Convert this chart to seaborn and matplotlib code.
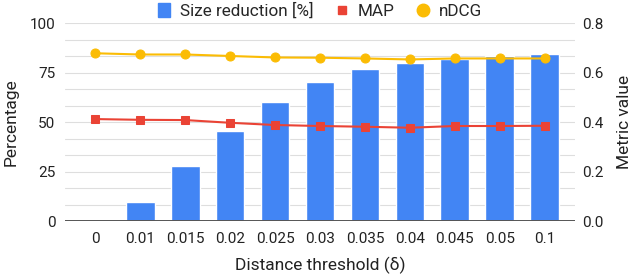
import numpy as np
import pandas as pd
import seaborn as sns
import matplotlib.pyplot as plt
from matplotlib.lines import Line2D
from matplotlib.patches import Patch

# values
thresholds = ['0', '0.01', '0.015', '0.02', '0.025', '0.03', '0.035', '0.04', '0.045', '0.05', '0.1']
size_reduction = [0, 9.8, 27.6, 45.5, 60, 70, 77, 80, 82, 83.5, 84.5]
map_vals = [0.412, 0.409, 0.408, 0.397, 0.388, 0.384, 0.381, 0.377, 0.384, 0.384, 0.385]
ndcg_vals = [0.678, 0.673, 0.673, 0.667, 0.661, 0.660, 0.657, 0.653, 0.657, 0.657, 0.657]

blue, red, yellow = '#4285F4', '#EA4335', '#FBBC04'
txt = '#222222'

sns.set_theme(style='white')
plt.rcParams['font.family'] = ['Roboto', 'DejaVu Sans']

df = pd.DataFrame({'threshold': thresholds, 'size': size_reduction,
                   'MAP': map_vals, 'nDCG': ndcg_vals})
df['pos'] = np.arange(len(df))

fig = plt.figure(figsize=(6.4, 2.78), dpi=100)
ax = fig.add_axes([0.102, 0.205, 0.796, 0.712])

# light grid, major + thirds
for v in np.arange(0, 100.1, 25 / 3):
    ax.axhline(v, color='#dedede', lw=0.8, zorder=0)

sns.barplot(data=df, x='threshold', y='size', color=blue, width=0.64,
            saturation=1, ax=ax, zorder=2)
ax.axhline(0, color='#555555', lw=1.4, zorder=3)

ax2 = ax.twinx()
sns.lineplot(data=df, x='pos', y='MAP', color=red, marker='s', markersize=6.3,
             markeredgecolor=red, lw=1.5, ax=ax2, zorder=4)
sns.lineplot(data=df, x='pos', y='nDCG', color=yellow, marker='o', markersize=6.5,
             markeredgecolor=yellow, lw=1.5, ax=ax2, zorder=4)

ax.set_xlim(-0.667, len(df) - 0.333)
ax2.set_xlim(-0.667, len(df) - 0.333)
ax.set_ylim(0, 100)
ax2.set_ylim(0, 0.8)
ax.set_yticks([0, 25, 50, 75, 100])
ax2.set_yticks([0, 0.2, 0.4, 0.6, 0.8])
ax2.set_yticklabels(['0.0', '0.2', '0.4', '0.6', '0.8'])

for a in (ax, ax2):
    for s in a.spines.values():
        s.set_visible(False)
    a.tick_params(length=0, labelsize=11, colors=txt)
ax.tick_params(axis='x', pad=8)
ax.tick_params(axis='y', pad=7)
ax2.tick_params(axis='y', pad=5)

ax.set_xlabel('Distance threshold (δ)', fontsize=12.5, color=txt, labelpad=8)
ax.set_ylabel('Percentage', fontsize=12.5, color=txt, labelpad=8)
ax2.set_ylabel('Metric value', fontsize=12.5, color=txt, labelpad=10)

handles = [Patch(color=blue, label='Size reduction [%]'),
           Line2D([], [], color=red, marker='s', ls='none', markersize=6, label='MAP'),
           Line2D([], [], color=yellow, marker='o', ls='none', markersize=9, label='nDCG')]
fig.legend(handles=handles, loc='upper center', bbox_to_anchor=(0.5, 1.045), ncol=3,
           frameon=False, fontsize=12.3, handlelength=0.7, handleheight=0.9,
           handletextpad=0.6, columnspacing=1.3)

fig.savefig('out.png', dpi=100)
